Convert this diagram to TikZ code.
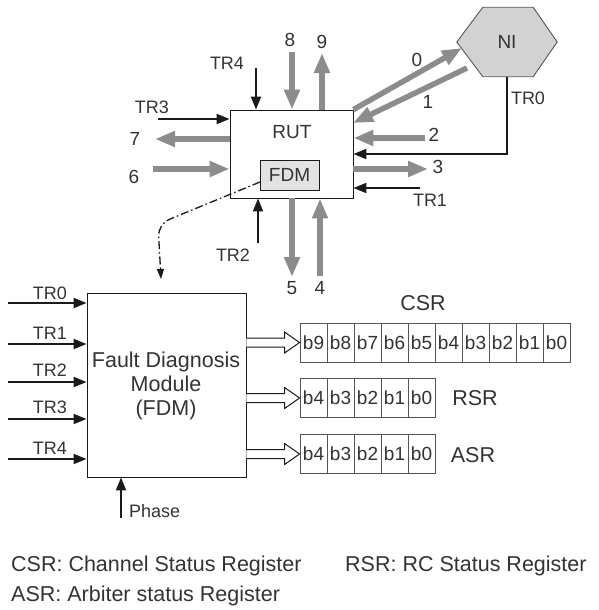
\documentclass[tikz,border=0pt]{standalone}
\usepackage{fontspec}
\setmainfont{Liberation Sans}
\usetikzlibrary{arrows.meta,calc}
\definecolor{arrgray}{HTML}{8C8C8C}
\definecolor{lineblk}{HTML}{1A1A1A}
\definecolor{txt}{HTML}{333333}
\definecolor{cellgray}{HTML}{555555}
\definecolor{hexfill}{HTML}{D2D2D2}
\definecolor{boxfill}{HTML}{E2E2E2}
\tikzset{
  garrow/.style={draw=arrgray, line width=5.5pt, -{Triangle[length=20pt,width=15pt]}},
  barrow/.style={draw=lineblk, line width=2pt, -{Triangle[length=13pt,width=10pt]}},
  lbl/.style={font=\fontsize{18}{21}\selectfont, text=txt, inner sep=0pt},
  num/.style={font=\fontsize{19}{22}\selectfont, text=txt, inner sep=0pt},
  big/.style={font=\fontsize{21.5}{24}\selectfont, text=txt, inner sep=0pt},
  cell/.style={draw=cellgray, line width=0.9pt, minimum width=27pt, minimum height=39pt, inner sep=0pt, font=\fontsize{19}{22}\selectfont, text=txt},
  hollow/.style={draw=lineblk, line width=1pt, fill=white, line join=miter},
  ddash/.style={draw=lineblk, line width=1.3pt, dash pattern=on 8pt off 3pt on 1.5pt off 3pt, rounded corners=12pt, -{Triangle[length=10pt,width=7pt]}},
}
\begin{document}
\begin{tikzpicture}[x=1pt,y=-1pt]
\useasboundingbox (0,0) rectangle (599,610);
% ---------------- RUT block ----------------
\node[draw=lineblk, line width=0.9pt, minimum width=123pt, minimum height=88pt, inner sep=0pt] (rut) at (291.5,154) {};
\node[num] (rutlbl) at (292,132) {RUT};
\node[draw=lineblk, line width=0.9pt, fill=boxfill, minimum width=59pt, minimum height=30pt, inner sep=0pt, font=\fontsize{19}{22}\selectfont, text=txt] (fdms) at (289.5,175) {FDM};
% ---------------- NI hexagon ----------------
\node[minimum width=100pt, minimum height=69pt, inner sep=0pt] (ni) at (507,42) {};
\draw[draw=cellgray, line width=0.9pt, fill=hexfill]
  (ni.west) -- ($(ni.north west)+(26,0)$) -- ($(ni.north east)+(-24,0)$) -- (ni.east)
  -- ($(ni.south east)+(-24,0)$) -- ($(ni.south west)+(26,0)$) -- cycle;
\node[num] (nilbl) at (ni.center) {NI};
% ---------------- free ends ----------------
\coordinate (tr4s) at (256,68);
\coordinate (a8s) at (292,52);
\coordinate (a9e) at (322,53);
\coordinate (tr3s) at (158,119);
\coordinate (a7e) at (155,139);
\coordinate (a6s) at (153,169);
\coordinate (tr2s) at (258,243);
\coordinate (a5e) at (292,277);
\coordinate (a4s) at (320,276);
\coordinate (a0e) at (462,48);
\coordinate (a1s) at (467,68);
\coordinate (a1e) at (353,123);
\coordinate (a2s) at (425,138);
\coordinate (tr0y) at (507,154);
\coordinate (a3e) at (428,169);
\coordinate (tr1s) at (420,188);
\coordinate (dd0) at (260,182);
\coordinate (ddk) at (158,224);
\coordinate (dde) at (161,279);
% ---------------- RUT connectors ----------------
\draw[barrow] (tr4s) -- (tr4s |- rut.north);
\draw[garrow] (a8s) -- (a8s |- rut.north);
\draw[garrow] (a9e |- rut.north) -- (a9e);
\draw[barrow] (tr3s) -- (tr3s -| rut.west);
\draw[garrow] (rut.west |- a7e) -- (a7e);
\draw[garrow] (a6s) -- (a6s -| rut.west);
\draw[barrow] (tr2s) -- (tr2s |- rut.south);
\draw[garrow] (a5e |- rut.south) -- (a5e);
\draw[garrow] (a4s) -- (a4s |- rut.south);
\draw[garrow] (rut.north east) -- (a0e);
\draw[garrow] (a1s) -- (a1e);
\draw[garrow] (a2s) -- (a2s -| rut.east);
\draw[barrow] (ni.south) -- (tr0y) -- (tr0y -| rut.east);
\draw[garrow] (rut.east |- a3e) -- (a3e);
\draw[barrow] (tr1s) -- (tr1s -| rut.east);
\draw[ddash] (dd0) -- (ddk) -- (dde);
% ---------------- RUT labels ----------------
\node[lbl] (ltr4) at (227,63) {TR4};
\node[num] (l8) at (290,40) {8};
\node[num] (l9) at (322,42) {9};
\node[lbl] (ltr3) at (152,107) {TR3};
\node[num] (l7) at (135,139) {7};
\node[num] (l6) at (134,177) {6};
\node[lbl] (ltr2) at (233,255) {TR2};
\node[num] (l5) at (292,288) {5};
\node[num] (l4) at (320,288) {4};
\node[num] (l0) at (417,60) {0};
\node[num] (l1) at (428,102) {1};
\node[num] (l2) at (434,135) {2};
\node[lbl] (ltr0) at (528,98) {TR0};
\node[num] (l3) at (438,167) {3};
\node[lbl] (ltr1) at (430,200) {TR1};
% ---------------- FDM block ----------------
\node[draw=lineblk, line width=0.9pt, minimum width=159pt, minimum height=184pt, inner sep=0pt] (fdm) at (166.5,385) {};
\node[big, align=center] (fdmtxt) at (166,386) {Fault Diagnosis\\Module\\(FDM)};
\foreach \i/\y/\ly in {0/303/293,1/344/333,2/382/370,3/419/407,4/459/448}{
  \coordinate (in\i) at (8,\y);
  \draw[barrow] (in\i) -- (in\i -| fdm.west);
  \node[lbl] (lin\i) at (50,\ly) {TR\i};
}
\coordinate (ph) at (121,518);
\draw[barrow] (ph) -- (ph |- fdm.south);
\node[lbl, anchor=west] (lph) at (129,511) {Phase};
% ---------------- Registers ----------------
\foreach \b [count=\k from 0] in {9,8,7,6,5,4,3,2,1,0}{
  \node[cell] (c\b) at (313.5+27*\k,342.5) {b\b};
}
\foreach \b [count=\k from 0] in {4,3,2,1,0}{
  \node[cell] (r\b) at (313.5+27*\k,398) {b\b};
  \node[cell] (s\b) at (313.5+27*\k,454) {b\b};
}
\node[big] (lcsr) at (423,303) {CSR};
\node[big] (lrsr) at (475,398) {RSR};
\node[big] (lasr) at (473,455) {ASR};
% hollow arrows
\foreach \t in {c9,r4,s4}{
  \draw[hollow] ($(fdm.east |- \t.west)+(0,-4.5)$) -- ($(\t.west)+(-15,-4.5)$) -- ($(\t.west)+(-15,-10.5)$)
    -- (\t.west) -- ($(\t.west)+(-15,10.5)$) -- ($(\t.west)+(-15,4.5)$) -- ($(fdm.east |- \t.west)+(0,4.5)$);
}
% ---------------- Legend ----------------
\node[big, anchor=west] (leg1) at (11,566) {CSR: Channel Status Register};
\node[big, anchor=west] (leg2) at (345,566) {RSR: RC Status Register};
\node[big, anchor=west] (leg3) at (11,596) {ASR: Arbiter status Register};
\end{tikzpicture}
\end{document}
